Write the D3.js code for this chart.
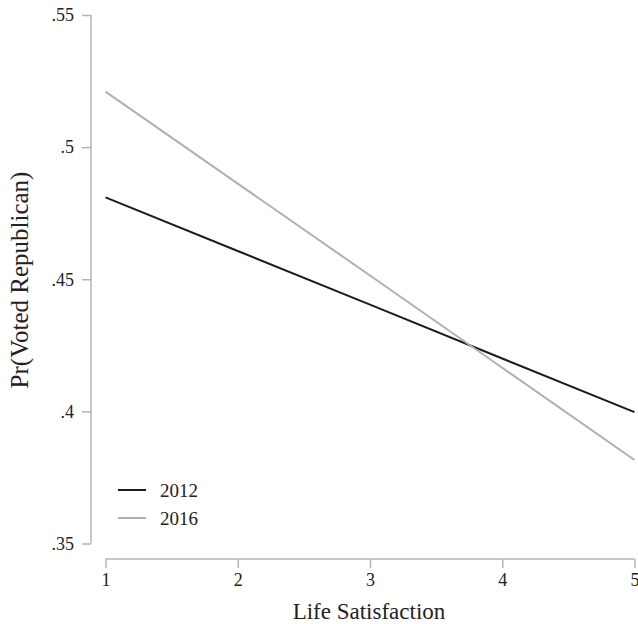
<!DOCTYPE html>
<html><head><meta charset="utf-8">
<script src="https://cdn.jsdelivr.net/npm/d3@7"></script>
<style>body{margin:0;background:#fff}</style>
</head><body>
<svg id="c" width="638" height="624"></svg>
<script>
const xValues = [1, 2, 3, 4, 5];
const series2012 = [0.481, 0.4607, 0.4404, 0.4200, 0.3997];
const series2016 = [0.521, 0.4862, 0.4514, 0.4165, 0.3816];
const seriesNames = ["2012", "2016"];
const yTicks = [0.35, 0.4, 0.45, 0.5, 0.55];
const yTickLabels = [".35", ".4", ".45", ".5", ".55"];
const xTicks = [1, 2, 3, 4, 5];

const svg = d3.select("#c");
const fam = "'Liberation Serif', 'Times New Roman', Times, serif";
const x = d3.scaleLinear().domain([1, 5]).range([105.5, 634.5]);
const y = d3.scaleLinear().domain([0.35, 0.55]).range([543.5, 15]);
const axisColor = "#b4b4b4";
const textColor = "#222";

const yAxis = svg.append("g").attr("transform", "translate(91,0)")
  .call(d3.axisLeft(y).tickValues(yTicks).tickSize(9).tickPadding(8)
    .tickFormat((d, i) => yTickLabels[i]));
const xAxis = svg.append("g").attr("transform", "translate(0,559)")
  .call(d3.axisBottom(x).tickValues(xTicks).tickSize(9).tickPadding(5)
    .tickFormat(d3.format("d")));
[yAxis, xAxis].forEach(g => {
  g.attr("font-family", null).attr("font-size", null);
  g.select(".domain").attr("stroke", axisColor).attr("stroke-width", 1.5);
  g.selectAll(".tick line").attr("stroke", axisColor).attr("stroke-width", 1.5);
  g.selectAll(".tick text").attr("fill", textColor)
    .style("font-family", fam).style("font-size", "18px");
});
yAxis.select(".domain").attr("d", `M0,${y(0.35)}V${y(0.55)}`);
xAxis.select(".domain").attr("d", `M${x(1)},0H${x(5)}`);

const line = d3.line().x((d, i) => x(xValues[i])).y(d => y(d));
const colors = ["#1c1c1c", "#b0b0b0"];
[series2012, series2016].forEach((s, k) => {
  svg.append("path").datum(s).attr("d", line).attr("fill", "none")
    .attr("stroke", colors[k]).attr("stroke-width", 2);
});

seriesNames.forEach((n, k) => {
  const ly = 490 + k * 28;
  svg.append("line").attr("x1", 118).attr("x2", 146).attr("y1", ly).attr("y2", ly)
    .attr("stroke", colors[k]).attr("stroke-width", 2);
  svg.append("text").attr("x", 160).attr("y", ly + 7).text(n)
    .attr("fill", textColor).style("font-family", fam).style("font-size", "19px");
});

svg.append("text").attr("x", 369).attr("y", 619).attr("text-anchor", "middle")
  .text("Life Satisfaction").attr("fill", textColor).style("font-family", fam).style("font-size", "23px");
svg.append("text").attr("transform", "translate(28,280) rotate(-90)").attr("text-anchor", "middle")
  .text("Pr(Voted Republican)").attr("fill", textColor).style("font-family", fam).style("font-size", "25px");
</script>
</body></html>
